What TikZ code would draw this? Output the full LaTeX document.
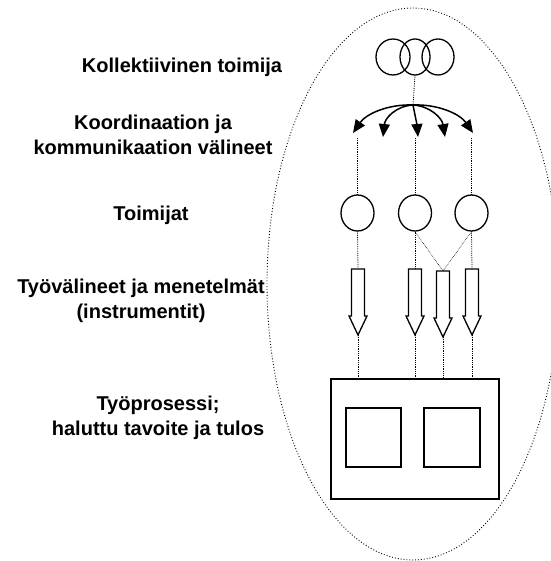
\documentclass[tikz,border=0pt]{standalone}
\usepackage{fontspec}
\setmainfont{Liberation Sans}
\usetikzlibrary{shapes.geometric,arrows.meta}
\tikzset{
  lbl/.style={font=\bfseries\fontsize{20}{25}\selectfont, align=center, inner sep=0pt},
  person/.style={draw, line width=1.3pt, ellipse, minimum width=33pt, minimum height=36pt, inner sep=0pt},
  link/.style={densely dotted, line width=0.8pt},
  comm/.style={line width=1.5pt, -{Triangle[length=13pt,width=11pt]}},
  frame/.style={draw, line width=1.3pt, inner sep=0pt},
  barrowline/.style={line width=1.3pt, line join=miter}
}
\newcommand{\blockarr}[4]{% name, center x, top y, tip y
  \draw[barrowline] (#2-6.5,#3) -- (#2+6.5,#3) -- (#2+6.5,#4-19) -- (#2+9,#4-19) -- (#2,#4) -- (#2-9,#4-19) -- (#2-6.5,#4-19) -- cycle;
  \coordinate (#1t) at (#2,#3);
  \coordinate (#1b) at (#2,#4);
}
\begin{document}
\begin{tikzpicture}[x=1pt,y=-1pt]
\useasboundingbox (0,0) rectangle (550,561);
% big dotted ellipse
\draw[dotted, line width=0.9pt] (413,284) ellipse [x radius=146, y radius=276];
% labels
\node[lbl] (l1) at (182,67) {Kollektiivinen toimija};
\node[lbl] (l2) at (153,135) {Koordinaation ja\\kommunikaation välineet};
\node[lbl] (l3) at (151,215) {Toimijat};
\node[lbl] (l4) at (141,301) {Työvälineet ja menetelmät\\(instrumentit)};
\node[lbl] (l5) at (158,418) {Työprosessi;\\haluttu tavoite ja tulos};
% collective actor
\node[person, minimum width=34pt] (c1) at (393,57) {};
\node[person, minimum width=30pt] (c2) at (415,57) {};
\node[person, minimum width=32pt] (c3) at (438,57) {};
\coordinate (hub) at (413,105);
\draw[link] (c2.south) -- (hub);
% communication arrows
\coordinate (a1) at (353,133);
\coordinate (a2) at (383,137);
\coordinate (a3) at (418,137);
\coordinate (a4) at (445,137);
\coordinate (a5) at (473,133);
\draw[comm] (hub) .. controls (388,104) and (366,114) .. (a1);
\draw[comm] (hub) .. controls (396,106) and (385,118) .. (a2);
\draw[comm] (hub) .. controls (415,115) and (417,125) .. (a3);
\draw[comm] (hub) .. controls (430,106) and (442,118) .. (a4);
\draw[comm] (hub) .. controls (438,104) and (460,114) .. (a5);
% actors
\node[person] (p1) at (357.5,213) {};
\node[person] (p2) at (415,213) {};
\node[person] (p3) at (471.5,213) {};
\coordinate (d1) at (357.5,138);
\coordinate (d2) at (415,138);
\coordinate (d3) at (471.5,138);
\draw[link] (d1) -- (p1.north);
\draw[link] (d2) -- (p2.north);
\draw[link] (d3) -- (p3.north);
% instruments
\blockarr{i1}{358}{269}{335}
\blockarr{i2}{415}{269}{335}
\blockarr{i3}{443}{271}{337}
\blockarr{i4}{472}{269}{335}
\draw[link] (p1.south) -- (i1t);
\draw[link] (p2.south) -- (i2t);
\draw[link] (p3.south) -- (i4t);
\draw[link, line width=0.6pt] (p2.south) -- (i3t);
\draw[link, line width=0.6pt] (p3.south) -- (i3t);
% work process
\node[frame, minimum width=168pt, minimum height=120pt] (proc) at (415,439) {};
\node[frame, minimum width=55pt, minimum height=59pt] (s1) at (373.5,437.5) {};
\node[frame, minimum width=56pt, minimum height=59pt] (s2) at (452,437.5) {};
\draw[link] (i1b) -- (i1b |- proc.north);
\draw[link] (i2b) -- (i2b |- proc.north);
\draw[link] (i3b) -- (i3b |- proc.north);
\draw[link] (i4b) -- (i4b |- proc.north);
\end{tikzpicture}
\end{document}
